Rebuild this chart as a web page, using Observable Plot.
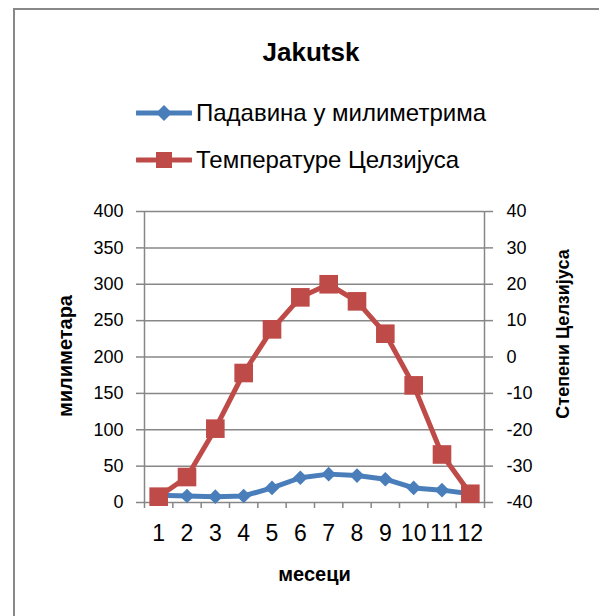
<!DOCTYPE html>
<html>
<head>
<meta charset="utf-8">
<script src="https://cdn.jsdelivr.net/npm/d3@7"></script>
<script src="https://cdn.jsdelivr.net/npm/@observablehq/plot@0.6"></script>
<style>
  html, body { margin: 0; padding: 0; background: #fff; width: 599px; height: 616px; overflow: hidden; }
  body { position: relative; font-family: "Liberation Sans", Arial, sans-serif; color: #000; }
  #frame { position: absolute; left: 13px; top: 8px; width: 800px; height: 800px; border: 2px solid #888; box-sizing: border-box; }
  #title { position: absolute; left: 0; width: 622px; top: 39px; text-align: center; font-size: 26px; line-height: 26px; font-weight: bold; }
  .leg { position: absolute; left: 136px; display: flex; align-items: center; font-size: 24px; height: 30px; white-space: nowrap; }
  .leg svg { display: block; margin-right: 4px; }
  #chart { position: absolute; left: 0; top: 190px; }
  .vlab { position: absolute; font-size: 20px; line-height: 20px; font-weight: bold; white-space: nowrap; transform: translate(-50%, -50%) rotate(-90deg); z-index: 2; }
</style>
</head>
<body>
<div id="frame"></div>
<div id="title"></div>
<div id="leg1" class="leg" style="top:98px"></div>
<div id="leg2" class="leg" style="top:145px"></div>
<div id="chart"></div>
<div id="ylab" class="vlab" style="left:65px; top:356px"></div>
<div id="y2lab" class="vlab" style="left:563px; top:334px; font-size:18px"></div>
<script>
const title = "Jakutsk";
const months = [1, 2, 3, 4, 5, 6, 7, 8, 9, 10, 11, 12];
const precipitation = [10, 9, 8, 9, 20, 34, 39, 37, 32, 20, 17, 12];
const temperature = [-38.4, -33.0, -19.7, -4.4, 7.6, 16.4, 20.0, 15.3, 6.4, -7.8, -26.8, -37.6];
const leftTicks = [0, 50, 100, 150, 200, 250, 300, 350, 400];
const rightTicks = [-40, -30, -20, -10, 0, 10, 20, 30, 40];
const seriesNames = ["Падавина у милиметрима", "Температуре Целзијуса"];
const seriesColors = ["#4A7EBB", "#BE4B48"];
const xTitle = "месеци";
const yLeftTitle = "милиметара";
const yRightTitle = "Степени Целзијуса";

// map temperature onto the left (mm) scale: -40..40 -> 0..400
const tToMm = t => (t + 40) * 5;
const mmToT = v => v / 5 - 40;

const data = months.map((m, i) => ({month: m, mm: precipitation[i], t: temperature[i]}));
const boundaries = d3.range(0.5, months.length + 1, 1);

document.getElementById("title").textContent = title;
document.getElementById("ylab").textContent = yLeftTitle;
document.getElementById("y2lab").textContent = yRightTitle;

function legendSwatch(color, symbol) {
  const s = d3.create("svg").attr("width", 56).attr("height", 22);
  s.append("line").attr("x1", 1).attr("x2", 55).attr("y1", 11).attr("y2", 11)
    .attr("stroke", color).attr("stroke-width", 5).attr("stroke-linecap", "round");
  if (symbol === "diamond") {
    s.append("path").attr("d", "M28,3L36,11L28,19L20,11Z").attr("fill", color);
  } else {
    s.append("rect").attr("x", 20).attr("y", 3).attr("width", 16).attr("height", 16).attr("fill", color);
  }
  return s.node();
}
const l1 = document.getElementById("leg1");
l1.appendChild(legendSwatch(seriesColors[0], "diamond"));
l1.appendChild(Object.assign(document.createElement("span"), {textContent: seriesNames[0]}));
const l2 = document.getElementById("leg2");
l2.appendChild(legendSwatch(seriesColors[1], "square"));
l2.appendChild(Object.assign(document.createElement("span"), {textContent: seriesNames[1]}));

const grey = "#878787";
const chart = Plot.plot({
  width: 599,
  height: 426,
  marginLeft: 144,
  marginRight: 115,
  marginTop: 21,
  marginBottom: 114,
  style: {fontFamily: "Liberation Sans, Arial, sans-serif", background: "transparent", overflow: "visible"},
  x: {domain: [0.5, 12.5], axis: null},
  y: {domain: [0, 400], axis: null},
  marks: [
    Plot.gridY(leftTicks, {stroke: grey, strokeOpacity: 1, strokeWidth: 1.5}),
    Plot.ruleX([0.5, 12.5], {stroke: grey, strokeWidth: 1.5}),
    Plot.axisY({anchor: "left", ticks: leftTicks, tickSize: 8, tickPadding: 13, stroke: grey, strokeWidth: 1.5, fill: "#000", fontSize: 18, label: null}),
    Plot.axisY({anchor: "right", ticks: rightTicks.map(tToMm), tickFormat: d => String(Math.round(mmToT(d))), tickSize: 8, tickPadding: 14, stroke: grey, strokeWidth: 1.5, fill: "#000", fontSize: 18, label: null}),
    Plot.axisX({anchor: "bottom", ticks: boundaries, tickSize: 6, stroke: grey, strokeWidth: 1.5, tickFormat: () => "", label: null}),
    Plot.axisX({anchor: "bottom", ticks: months, tickSize: 0, tickPadding: 22, fill: "#000", fontSize: 23, tickFormat: d => String(d), label: null}),
    Plot.text([xTitle], {frameAnchor: "bottom", dy: 78, fontSize: 20, fontWeight: "bold", fill: "#000"}),
    Plot.line(data, {x: "month", y: "mm", stroke: seriesColors[0], strokeWidth: 5}),
    Plot.dot(data, {x: "month", y: "mm", symbol: "diamond2", r: 6.6, fill: seriesColors[0], stroke: "none"}),
    Plot.line(data, {x: "month", y: d => tToMm(d.t), stroke: seriesColors[1], strokeWidth: 5}),
    Plot.dot(data, {x: "month", y: d => tToMm(d.t), symbol: "square", r: 10.5, fill: seriesColors[1], stroke: "none"})
  ]
});
document.getElementById("chart").appendChild(chart);
</script>
</body>
</html>
